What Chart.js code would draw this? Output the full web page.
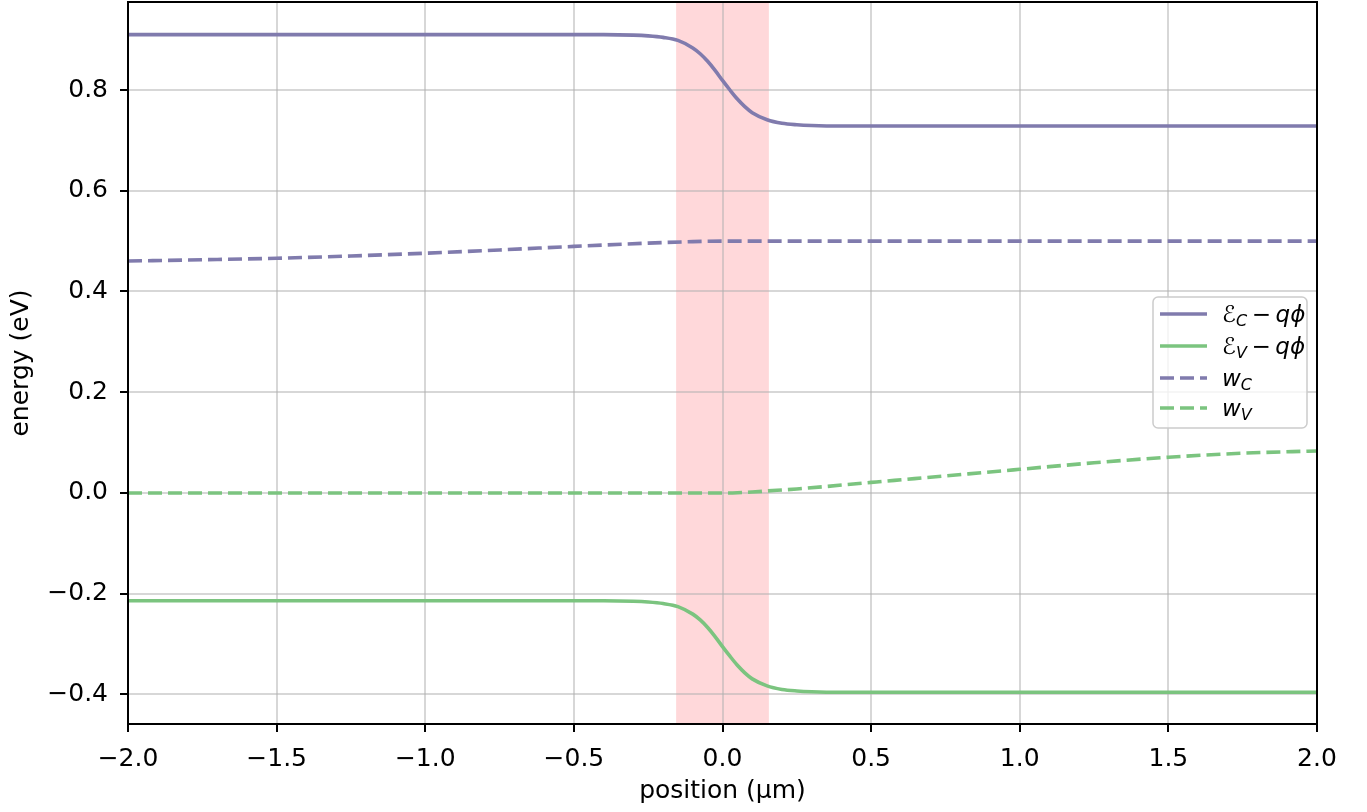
<!DOCTYPE html>
<html>
<head>
<meta charset="utf-8">
<script src="https://cdn.jsdelivr.net/npm/chart.js@4.4.1/dist/chart.umd.min.js"></script>
<style>
  html, body { margin: 0; padding: 0; background: #ffffff; }
  #wrap { width: 1367px; height: 812px; position: relative; }
</style>
</head>
<body>
<div id="wrap"><canvas id="c" width="1367" height="812"></canvas></div>
<script>
// ---------------- data ----------------
const bandX = [-2, -0.4, -0.3, -0.25, -0.2, -0.15, -0.1, -0.075, -0.05, -0.025, 0, 0.025, 0.05, 0.075, 0.1, 0.15, 0.2, 0.25, 0.3, 0.4, 2];
const ecMinusQphi = [0.910, 0.910, 0.909, 0.9075, 0.9045, 0.8985, 0.8835, 0.872, 0.857, 0.839, 0.819, 0.800, 0.782, 0.767, 0.755, 0.741, 0.734, 0.731, 0.7295, 0.7285, 0.7285];
const evMinusQphi = [-0.214, -0.214, -0.215, -0.2165, -0.2195, -0.2255, -0.2405, -0.252, -0.267, -0.285, -0.305, -0.324, -0.342, -0.357, -0.369, -0.383, -0.390, -0.393, -0.3945, -0.3955, -0.3955];

const wcX = [-2, -1.75, -1.5, -1.25, -1, -0.75, -0.5, -0.25, -0.1, 0, 0.1, 2];
const wC  = [0.4605, 0.463, 0.466, 0.4705, 0.476, 0.4825, 0.4895, 0.496, 0.499, 0.500, 0.500, 0.500];

const wvX = [-2, -0.5, 0, 0.05, 0.1, 0.15, 0.25, 0.5, 0.75, 1, 1.25, 1.5, 1.75, 2];
const wV  = [0, 0, 0, 0.0005, 0.002, 0.004, 0.008, 0.021, 0.034, 0.047, 0.060, 0.071, 0.079, 0.0835];

const junction = [-0.156, 0.156];           // shaded region (µm)
const xTicks = [-2.0, -1.5, -1.0, -0.5, 0.0, 0.5, 1.0, 1.5, 2.0];
const yTicks = [-0.4, -0.2, 0.0, 0.2, 0.4, 0.6, 0.8];
const xRange = [-2, 2];
const yRange = [-0.4586, 0.9747];

// ---------------- styles ----------------
const PURPLE = '#807bad';
const GREEN = '#7bc47f';
const FONT = '"DejaVu Sans", "Liberation Sans", sans-serif';
const LW = 3.6;
const DASH = [14, 6];

function pts(xs, ys) { return xs.map((x, i) => ({ x: x, y: ys[i] })); }
function fmt(v) {
  const s = Number(v).toFixed(1);
  return s.replace('-', '\u2212');
}

const legendItems = [
  { color: PURPLE, dash: [], parts: [{t: '\u2130'}, {t: 'C', it: true, sub: true}, {t: '\u2009\u2212\u2009'}, {t: 'q', it: true}, {t: '\u03d5', it: true}] },
  { color: GREEN,  dash: [], parts: [{t: '\u2130'}, {t: 'V', it: true, sub: true}, {t: '\u2009\u2212\u2009'}, {t: 'q', it: true}, {t: '\u03d5', it: true}] },
  { color: PURPLE, dash: DASH, parts: [{t: 'w', it: true}, {t: 'C', it: true, sub: true}] },
  { color: GREEN,  dash: DASH, parts: [{t: 'w', it: true}, {t: 'V', it: true, sub: true}] }
];

const decor = {
  id: 'decor',
  beforeDraw(chart) {
    const {ctx, chartArea: a, scales} = chart;
    const x0 = scales.x.getPixelForValue(junction[0]);
    const x1 = scales.x.getPixelForValue(junction[1]);
    ctx.save();
    ctx.fillStyle = '#ffd8da';
    ctx.fillRect(x0, a.top, x1 - x0, a.bottom - a.top);
    ctx.restore();
  },
  afterDatasetsDraw(chart) {
    const {ctx, chartArea: a} = chart;
    ctx.save();
    ctx.strokeStyle = '#000000';
    ctx.lineWidth = 2;
    ctx.strokeRect(a.left, a.top, a.right - a.left, a.bottom - a.top);
    ctx.restore();
  },
  afterDraw(chart) {
    const {ctx} = chart;
    ctx.save();
    // legend box
    const bx = 1153, by = 297, bw = 154, bh = 131, r = 5;
    ctx.beginPath();
    ctx.moveTo(bx + r, by);
    ctx.arcTo(bx + bw, by, bx + bw, by + bh, r);
    ctx.arcTo(bx + bw, by + bh, bx, by + bh, r);
    ctx.arcTo(bx, by + bh, bx, by, r);
    ctx.arcTo(bx, by, bx + bw, by, r);
    ctx.closePath();
    ctx.fillStyle = 'rgba(255,255,255,0.8)';
    ctx.fill();
    ctx.strokeStyle = '#cccccc';
    ctx.lineWidth = 1.5;
    ctx.stroke();
    const rows = [314, 346, 378, 408];
    legendItems.forEach((it, i) => {
      const y = rows[i];
      ctx.beginPath();
      ctx.setLineDash(it.dash);
      ctx.strokeStyle = it.color;
      ctx.lineWidth = LW;
      ctx.moveTo(1160, y);
      ctx.lineTo(1207, y);
      ctx.stroke();
      ctx.setLineDash([]);
      let x = 1222;
      ctx.fillStyle = '#000';
      ctx.textBaseline = 'alphabetic';
      ctx.textAlign = 'left';
      for (const p of it.parts) {
        const size = p.sub ? 16 : 23;
        ctx.font = (p.it ? 'italic ' : '') + size + 'px ' + FONT;
        ctx.fillText(p.t, x, p.sub ? y + 12 : y + 8);
        x += ctx.measureText(p.t).width;
      }
    });
    ctx.restore();
  }
};

function axis(ticksArr, range, title, isX) {
  return {
    type: 'linear',
    min: range[0],
    max: range[1],
    afterBuildTicks(scale) { scale.ticks = ticksArr.map(v => ({ value: v })); },
    afterFit(scale) {
      if (isX) { scale.height = 88; scale.paddingLeft = 0; scale.paddingRight = 0; }
      else { scale.width = 128; scale.paddingTop = 0; scale.paddingBottom = 0; }
    },
    ticks: {
      autoSkip: false,
      maxRotation: 0,
      minRotation: 0,
      padding: 12,
      color: '#000000',
      font: { family: FONT, size: 25 },
      callback: v => fmt(v)
    },
    grid: {
      color: 'rgba(176,176,176,0.5)',
      lineWidth: 2,
      tickColor: '#000000',
      tickLength: 8,
      drawTicks: true
    },
    border: { display: false },
    title: {
      display: true,
      text: title,
      color: '#000000',
      font: { family: FONT, size: 25 },
      padding: isX ? { top: 0, bottom: 6 } : { top: 6, bottom: 0 }
    }
  };
}

new Chart(document.getElementById('c'), {
  type: 'line',
  data: {
    datasets: [
      { label: 'Ec - q phi', data: pts(bandX, ecMinusQphi), borderColor: PURPLE, borderWidth: LW, pointRadius: 0, cubicInterpolationMode: 'monotone', fill: false },
      { label: 'Ev - q phi', data: pts(bandX, evMinusQphi), borderColor: GREEN, borderWidth: LW, pointRadius: 0, cubicInterpolationMode: 'monotone', fill: false },
      { label: 'wC', data: pts(wcX, wC), borderColor: PURPLE, borderWidth: LW, borderDash: DASH, pointRadius: 0, cubicInterpolationMode: 'monotone', fill: false },
      { label: 'wV', data: pts(wvX, wV), borderColor: GREEN, borderWidth: LW, borderDash: DASH, pointRadius: 0, cubicInterpolationMode: 'monotone', fill: false }
    ]
  },
  options: {
    responsive: false,
    animation: false,
    devicePixelRatio: 1,
    layout: { padding: { left: 0, right: 50, top: 2, bottom: 0 } },
    plugins: { legend: { display: false }, tooltip: { enabled: false } },
    scales: {
      x: axis(xTicks, xRange, 'position (\u03bcm)', true),
      y: axis(yTicks, yRange, 'energy (eV)', false)
    }
  },
  plugins: [decor]
});
</script>
</body>
</html>
